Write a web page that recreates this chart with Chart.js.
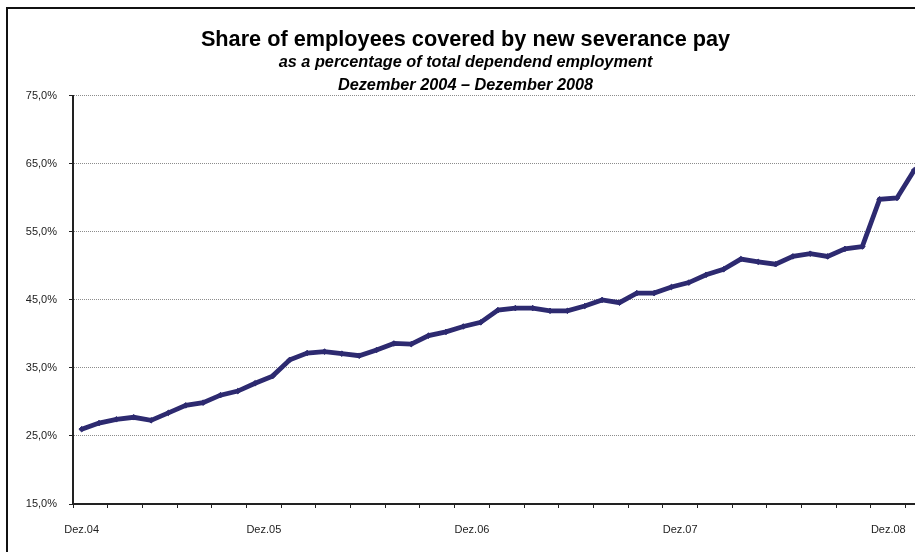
<!DOCTYPE html>
<html>
<head>
<meta charset="utf-8">
<title>Share of employees covered by new severance pay</title>
<script src="https://cdn.jsdelivr.net/npm/chart.js@4.4.1/dist/chart.umd.min.js"></script>
<style>
    html, body { margin: 0; background: #fff; }
    #page { position: relative; width: 915px; height: 552px; overflow: hidden; background: #fff; }
    #frame { position: absolute; left: 6px; top: 7px; width: 920px; height: 560px; border: 2px solid #111; }
    canvas { display: block; }
</style>
</head>
<body>
<div id="page">
    <div id="frame"><canvas id="chart" width="920" height="560"></canvas></div>
</div>
<script>
// Monthly share of employees under the new severance pay scheme, Dez.04 - Dez.08 (in %)
const share = [
    26.0, 26.9, 27.45, 27.75, 27.3, 28.4, 29.5, 29.9, 31.0, 31.6, 32.75, 33.8,
    36.2, 37.2, 37.4, 37.1, 36.8, 37.65, 38.6, 38.5, 39.75, 40.3, 41.1, 41.7,
    43.5, 43.8, 43.8, 43.4, 43.4, 44.1, 45.0, 44.6, 46.0, 46.0, 46.9, 47.55,
    48.7, 49.5, 51.0, 50.6, 50.25, 51.4, 51.8, 51.4, 52.5, 52.85, 59.8, 60.0,
    64.1
];

const monthNames = ['Jän', 'Feb', 'Mär', 'Apr', 'Mai', 'Jun', 'Jul', 'Aug', 'Sep', 'Okt', 'Nov', 'Dez'];
const yearTicks = ['Dez.04', 'Dez.05', 'Dez.06', 'Dez.07', 'Dez.08'];
const yTicks = [15, 25, 35, 45, 55, 65, 75];

// Month labels starting at Dez.04
const months = share.map((_, i) => {
    const m = (11 + i) % 12;
    const yy = 4 + Math.floor((11 + i) / 12);
    return monthNames[m] + '.' + String(yy).padStart(2, '0');
});

// Year labels sit just before their month; the first one stays inside the plot
const labelAt = new Map();
yearTicks.forEach(label => {
    const idx = months.indexOf(label);
    labelAt.set(idx === 0 ? 0 : idx - 1.5, label);
});

// Tick marks every second month, on the category boundaries
const tickValues = [];
for (let v = -0.5; v < share.length - 1; v += 2) tickValues.push(v);
labelAt.forEach((_, v) => tickValues.push(v));
tickValues.sort((a, b) => a - b);

const font = 'Liberation Sans, Arial, sans-serif';
const lineColor = '#2d2a70';

new Chart(document.getElementById('chart').getContext('2d'), {
    type: 'line',
    data: {
        datasets: [{
            data: share.map((v, i) => ({ x: i, y: v })),
            borderColor: lineColor,
            backgroundColor: lineColor,
            borderWidth: 4.8,
            pointStyle: 'rectRot',
            pointRadius: 2.8,
            pointBorderWidth: 1,
            tension: 0
        }]
    },
    options: {
        responsive: false,
        animation: false,
        layout: { padding: { left: 0, right: 5, top: 0, bottom: 20 } },
        plugins: {
            legend: { display: false },
            tooltip: { enabled: false },
            title: {
                display: true,
                text: 'Share of employees covered by new severance pay',
                color: '#000',
                font: { family: font, size: 21.7, weight: 'bold', lineHeight: 1.1 },
                padding: { top: 19, bottom: 0 }
            },
            subtitle: {
                display: true,
                text: ['as a percentage of total dependend employment', 'Dezember 2004 \u2013 Dezember 2008'],
                color: '#000',
                font: { family: font, size: 16.3, weight: 'bold', style: 'italic', lineHeight: 23 / 16.3 },
                padding: { top: -1, bottom: -1 }
            }
        },
        scales: {
            x: {
                type: 'linear',
                bounds: 'data',
                min: -0.5,
                max: share.length - 0.5,
                afterBuildTicks: axis => { axis.ticks = tickValues.map(v => ({ value: v })); },
                afterFit: axis => { axis.height = 45; axis.paddingLeft = 0; axis.paddingRight = 0; },
                grid: {
                    drawOnChartArea: false,
                    tickLength: 4,
                    tickWidth: 1,
                    tickColor: ctx => labelAt.has(ctx.tick && ctx.tick.value) ? 'rgba(0,0,0,0)' : '#222'
                },
                border: { color: '#222', width: 2 },
                ticks: {
                    autoSkip: false,
                    maxRotation: 0,
                    padding: 15,
                    color: '#222',
                    font: { family: font, size: 11 },
                    callback: v => labelAt.get(v) || ''
                }
            },
            y: {
                min: yTicks[0],
                max: yTicks[yTicks.length - 1],
                afterBuildTicks: axis => { axis.ticks = yTicks.map(v => ({ value: v })); },
                afterFit: axis => { axis.width = 65; axis.paddingTop = 0; axis.paddingBottom = 0; },
                grid: { color: '#8c8c8c', lineWidth: 1, tickLength: 4, tickColor: '#222' },
                border: { color: '#222', width: 2, dash: [1, 1] },
                ticks: {
                    padding: 12,
                    color: '#222',
                    font: { family: font, size: 11 },
                    callback: v => v.toFixed(1).replace('.', ',') + '%'
                }
            }
        }
    }
});
</script>
</body>
</html>
